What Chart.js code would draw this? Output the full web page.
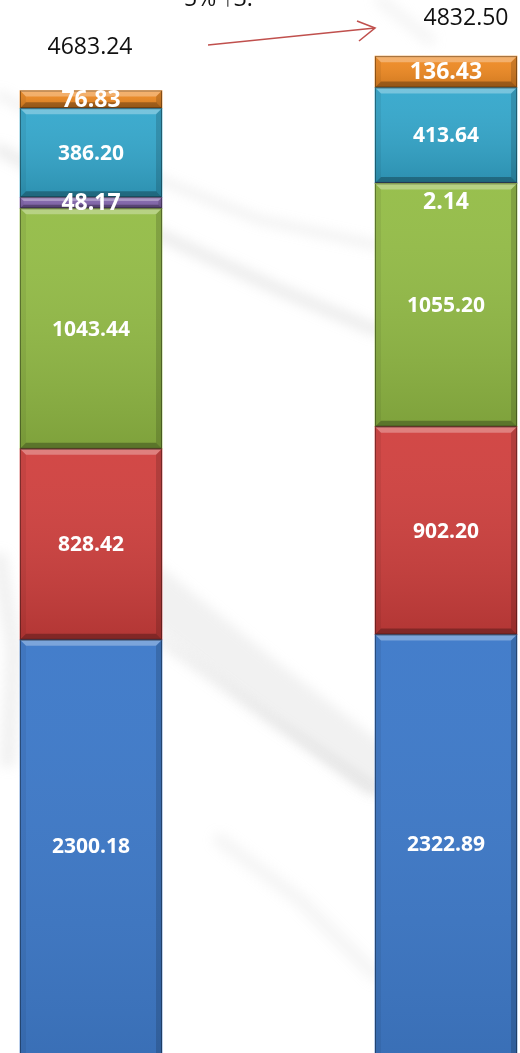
<!DOCTYPE html>
<html>
<head>
<meta charset="utf-8">
<script src="https://cdn.jsdelivr.net/npm/chart.js@4"></script>
<style>
  html,body{margin:0;padding:0;background:#fff;overflow:hidden;width:520px;height:1053px;}
  #wrap{position:absolute;left:0;top:0;width:520px;height:1170px;}
</style>
</head>
<body>
<div id="wrap"><canvas id="c" width="520" height="1170"></canvas></div>
<script>
// data (bottom segment first)
const categories = ['A', 'B'];
const seriesNames = ['s1', 's2', 's3', 's4', 's5', 's6'];
const blueVals   = [2300.18, 2322.89];
const redVals    = [828.42, 902.20];
const greenVals  = [1043.44, 1055.20];
const purpleVals = [48.17, 2.14];
const cyanVals   = [386.20, 413.64];
const orangeVals = [76.83, 136.43];
const growthText = '5% \u21913.';

const seriesVals = [blueVals, redVals, greenVals, purpleVals, cyanVals, orangeVals];
const colors = ['#3a77c8', '#d03f3d', '#93bc45', '#8366ae', '#33a7cc', '#f08a22'];
const labelSizes = [21, 21, 21, 23, 21, 23];
const VISIBLE_H = 1053;

// marble-ish background
const marble = {
  id: 'marble',
  beforeDraw(chart){
    const ctx = chart.ctx;
    ctx.save();
    ctx.fillStyle = '#ffffff';
    ctx.fillRect(0, 0, chart.width, chart.height);
    ctx.filter = 'blur(6px)';
    ctx.lineCap = 'round';
    const streak = (pts, w, col) => {
      ctx.beginPath();
      ctx.moveTo(pts[0][0], pts[0][1]);
      for(let i=1;i<pts.length;i++) ctx.lineTo(pts[i][0], pts[i][1]);
      ctx.strokeStyle = col; ctx.lineWidth = w; ctx.stroke();
    };
    streak([[0,95],[160,180],[260,220],[375,245]], 8, 'rgba(170,170,170,0.18)');
    streak([[0,150],[160,235],[280,290],[375,330]], 12, 'rgba(160,160,160,0.2)');
    streak([[150,590],[260,680],[375,770]], 50, 'rgba(175,175,175,0.18)');
    streak([[160,640],[270,720],[375,790]], 8, 'rgba(150,150,150,0.18)');
    streak([[220,840],[300,900],[375,975]], 14, 'rgba(185,185,185,0.15)');
    streak([[0,560],[14,650],[8,760]], 16, 'rgba(180,180,180,0.18)');
    streak([[380,0],[430,40]], 12, 'rgba(200,200,200,0.18)');
    ctx.restore();
  }
};

// bevel + labels
const bevel = {
  id: 'bevel',
  afterDatasetsDraw(chart){
    const ctx = chart.ctx;
    chart.data.datasets.forEach((ds, di) => {
      const meta = chart.getDatasetMeta(di);
      meta.data.forEach((el, j) => {
        const p = el.getProps(['x','y','base','width'], true);
        const l = p.x - p.width/2, r = p.x + p.width/2;
        const t = Math.min(p.y, p.base), b = Math.max(p.y, p.base);
        const h = b - t;
        if(h < 1) return;
        const bw = Math.min(6, h/3);
        ctx.save();
        const g = ctx.createLinearGradient(0, t, 0, b);
        g.addColorStop(0, 'rgba(255,255,255,0.05)');
        g.addColorStop(1, 'rgba(0,0,0,0.14)');
        ctx.fillStyle = g; ctx.fillRect(l, t, p.width, h);
        // top
        ctx.fillStyle = 'rgba(255,255,255,0.3)';
        ctx.beginPath(); ctx.moveTo(l,t); ctx.lineTo(r,t); ctx.lineTo(r-bw,t+bw); ctx.lineTo(l+bw,t+bw); ctx.fill();
        // bottom
        ctx.fillStyle = 'rgba(0,0,0,0.28)';
        ctx.beginPath(); ctx.moveTo(l,b); ctx.lineTo(r,b); ctx.lineTo(r-bw,b-bw); ctx.lineTo(l+bw,b-bw); ctx.fill();
        // sides
        ctx.fillStyle = 'rgba(0,0,0,0.06)';
        ctx.beginPath(); ctx.moveTo(l,t); ctx.lineTo(l+bw,t+bw); ctx.lineTo(l+bw,b-bw); ctx.lineTo(l,b); ctx.fill();
        ctx.fillStyle = 'rgba(0,0,0,0.15)';
        ctx.beginPath(); ctx.moveTo(r,t); ctx.lineTo(r-bw,t+bw); ctx.lineTo(r-bw,b-bw); ctx.lineTo(r,b); ctx.fill();
        ctx.strokeStyle = 'rgba(0,0,0,0.35)'; ctx.lineWidth = 1;
        ctx.strokeRect(l+0.5, t+0.5, p.width-1, h-1);
        ctx.restore();
      });
    });
  },
  afterDraw(chart){
    const ctx = chart.ctx;
    ctx.save();
    ctx.textAlign = 'center'; ctx.textBaseline = 'middle';
    // segment labels
    chart.data.datasets.forEach((ds, di) => {
      const meta = chart.getDatasetMeta(di);
      meta.data.forEach((el, j) => {
        const p = el.getProps(['x','y','base'], true);
        const t = Math.min(p.y, p.base);
        const b = Math.min(Math.max(p.y, p.base), VISIBLE_H);
        let cy = (t + b) / 2;
        if(b - t < 4) cy = t + 19;
        ctx.font = 'bold ' + labelSizes[di] + 'px "Open Sans", sans-serif';
        ctx.fillStyle = '#ffffff';
        ctx.fillText(ds.data[j].toFixed(2), p.x, cy + 1);
      });
    });
    // totals
    const offs = [[-1, -43], [20, -38]];
    const top = chart.getDatasetMeta(chart.data.datasets.length - 1);
    ctx.font = '23px "Open Sans", sans-serif';
    ctx.fillStyle = '#111';
    top.data.forEach((el, j) => {
      const total = seriesVals.reduce((s, arr) => s + arr[j], 0);
      const p = el.getProps(['x','y'], true);
      ctx.fillText(total.toFixed(2), p.x + offs[j][0], p.y + offs[j][1]);
    });
    // growth text (cut at top)
    ctx.textAlign = 'left';
    ctx.fillText(growthText, 184, -1);
    // arrow
    ctx.strokeStyle = '#c0504d'; ctx.lineWidth = 1.6;
    ctx.beginPath(); ctx.moveTo(208, 45); ctx.lineTo(375, 28); ctx.stroke();
    ctx.beginPath(); ctx.moveTo(357, 21); ctx.lineTo(375, 28); ctx.lineTo(359, 41); ctx.stroke();
    ctx.restore();
  }
};

new Chart(document.getElementById('c'), {
  type: 'bar',
  data: {
    labels: categories,
    datasets: seriesVals.map((vals, i) => ({
      label: seriesNames[i],
      data: vals,
      backgroundColor: colors[i],
      borderWidth: 0,
      barThickness: 142,
      clip: false
    }))
  },
  options: {
    responsive: false,
    animation: false,
    devicePixelRatio: 1,
    layout: { padding: { left: 91, right: 74, top: 0, bottom: 0 } },
    plugins: { legend: { display: false }, tooltip: { enabled: false } },
    scales: {
      x: { stacked: true, offset: false, display: false },
      y: { stacked: true, min: 0, max: 5076, display: false }
    }
  },
  plugins: [marble, bevel]
});
</script>
</body>
</html>
